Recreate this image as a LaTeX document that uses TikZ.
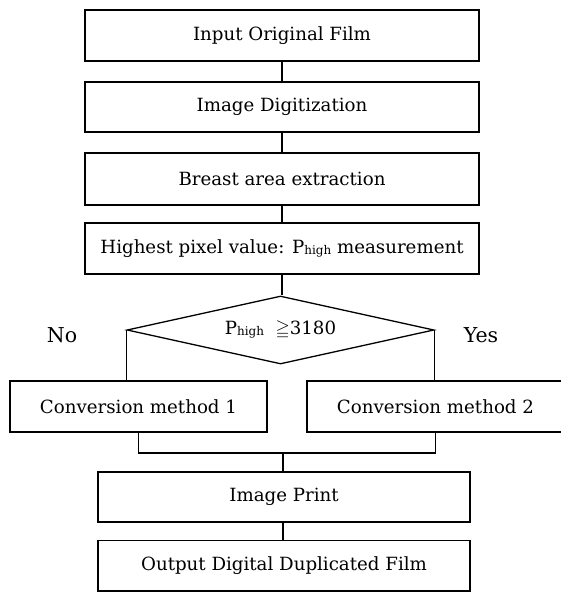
\documentclass[tikz,border=0pt]{standalone}
\usepackage{fontspec}
\usepackage{amssymb}
\setmainfont{DejaVu Serif}
\usetikzlibrary{shapes.geometric}
\newcommand\hsub[1]{\raisebox{-1pt}{\fontsize{12}{12}\selectfont #1}}
\begin{document}
\begin{tikzpicture}[x=1pt,y=-1pt,line width=1.3pt,
  every node/.style={font=\fontsize{18.2}{20}\selectfont},
  stepbox/.style={draw, rectangle, inner sep=0pt, minimum width=#1, minimum height=51pt},
  decision/.style={draw, diamond, inner sep=0pt, minimum width=307pt, minimum height=68pt, aspect=4.5},
  lbl/.style={font=\fontsize{20.5}{22}\selectfont}]
\useasboundingbox (0,0) rectangle (561,592);
\node[stepbox=394pt] (b1) at (282,35.5) {Input Original Film};
\node[stepbox=394pt, minimum height=50pt] (b2) at (282,107) {Image Digitization};
\node[stepbox=394pt, minimum height=52pt] (b3) at (282,179) {Breast area extraction};
\node[stepbox=394pt] (b4) at (282,248.5) {Highest pixel value: P\hsub{high} measurement};
\node[decision] (d) at (280.5,330) {P\hsub{high}\ \ $\geqq$3180};
\node[lbl] (no) at (62,335) {No};
\node[lbl] (yes) at (481,335) {Yes};
\node[stepbox=257pt] (c1) at (138.5,406.5) {Conversion method 1};
\node[stepbox=257pt] (c2) at (435.5,406.5) {Conversion method 2};
\coordinate (j) at (283,453);
\node[stepbox=372pt, minimum height=50pt] (p) at (284,497) {Image Print};
\node[stepbox=372pt, minimum height=50.5pt] (o) at (284,565.75) {Output Digital Duplicated Film};
\draw (b1.south) -- (b2.north);
\draw (b2.south) -- (b3.north);
\draw (b3.south) -- (b4.north);
\draw (b4.south) -- (b4.south |- d.north);
\draw (d.west) -- (d.west |- c1.north);
\draw (d.east) -- (d.east |- c2.north);
\draw (c1.south) -- (c1.south |- j) -- (c2.south |- j) -- (c2.south);
\draw (j) -- (j |- p.north);
\draw (p.south -| j) -- (o.north -| j);
\end{tikzpicture}
\end{document}
